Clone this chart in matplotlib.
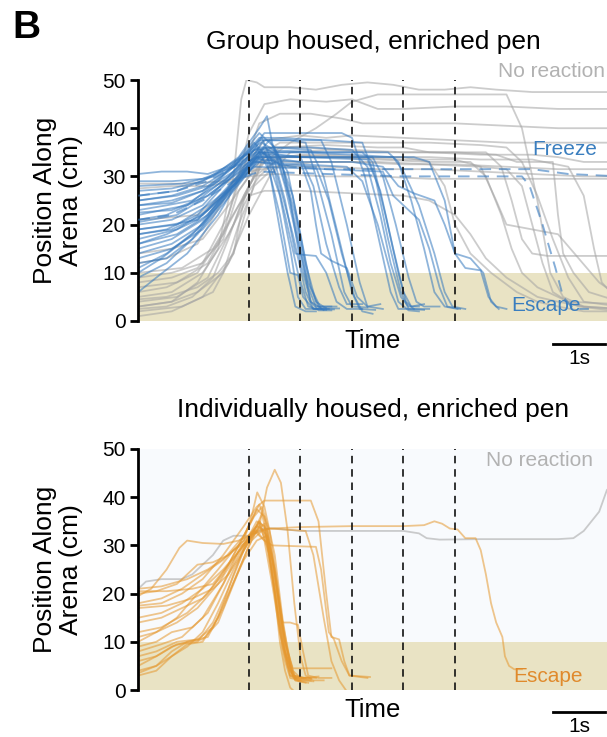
import matplotlib
matplotlib.use("Agg")
import matplotlib.pyplot as plt
from matplotlib.transforms import blended_transform_factory

plt.rcParams['font.family'] = ['Liberation Sans', 'DejaVu Sans']

# ---------------- data (time in s relative to first stimulus, position in cm) ----
stimulus_onsets = [0, 1, 2, 3, 4]
y_ticks = [0, 10, 20, 30, 40, 50]
escape_zone = [0, 10]

group_escape_trials = [
    [(-2.15,18),(-1.6,19),(-1.0,22),(-0.5,28),(0.0,34),(0.25,38),(0.45,33),(0.7,22),(0.95,10),(1.15,3),(1.3,2.5),(1.55,2.5)],
    [(-2.15,22),(-1.7,23),(-1.2,24),(-0.6,29),(-0.1,35),(0.2,39),(0.5,36),(0.8,25),(1.0,12),(1.2,4),(1.35,2.2),(1.6,2.2)],
    [(-2.15,14),(-1.5,16),(-0.9,20),(-0.4,27),(0.1,33),(0.3,35),(0.55,30),(0.85,18),(1.1,6),(1.25,2.5),(1.5,2.3)],
    [(-2.15,25),(-1.4,26),(-0.8,28),(-0.3,32),(0.1,37),(0.35,34),(0.6,26),(0.8,15),(0.95,5),(1.1,2.5),(1.4,2.5)],
    [(-2.15,9),(-1.6,12),(-1.0,18),(-0.5,25),(0.0,32),(0.3,36),(0.6,34),(0.9,22),(1.15,8),(1.35,3),(1.7,3)],
    [(-2.15,20),(-1.5,21),(-0.9,24),(-0.3,31),(0.15,36),(0.4,31),(0.65,16),(0.75,10),(0.9,3),(1.1,2),(1.3,2)],
    [(-2.15,28),(-1.3,28.5),(-0.7,30),(-0.2,34),(0.2,40),(0.35,42.5),(0.45,37),(0.7,28),(1.0,14),(1.2,4),(1.45,2.3)],
    [(-2.15,12),(-1.6,13),(-1.1,17),(-0.6,24),(-0.1,31),(0.25,35),(0.5,33),(0.7,25),(0.9,14),(1.0,13.8),(1.3,13.5),(1.5,10),(1.7,4),(1.9,2.5),(2.2,2.5)],
    [(-2.15,16),(-1.4,18),(-0.8,22),(-0.3,29),(0.15,34),(0.35,33),(0.6,22),(0.8,10),(0.95,9.5),(1.05,5),(1.25,2.5),(1.5,2.7)],
    [(-2.15,6),(-1.8,9),(-1.2,14),(-0.6,22),(-0.1,31),(0.25,37),(0.55,35),(0.85,26),(1.1,12),(1.3,4),(1.5,2.6),(1.75,2.6)],
    [(-2.15,23),(-1.6,24),(-1.1,25),(-0.5,29),(0.0,33),(0.3,35),(0.65,32),(0.9,20),(1.15,7),(1.3,3),(1.6,3)],
    [(-2.15,19),(-1.5,20),(-1.0,21),(-0.4,28),(0.1,34),(0.4,37.5),(0.75,31),(1.0,18),(1.2,7),(1.4,2.5),(1.65,2.4)],
    [(-2.15,24),(-1.5,25),(-0.9,27),(-0.4,31),(0.1,36),(0.3,37.5),(0.8,37.5),(1.1,37),(1.3,30),(1.6,18),(1.85,6),(2.0,3),(2.3,2.8)],
    [(-2.15,17),(-1.4,19),(-0.8,23),(-0.2,30),(0.2,35),(0.6,34.5),(1.0,34),(1.25,28),(1.5,16),(1.75,7),(1.9,3.5),(2.2,3.5)],
    [(-2.15,21),(-1.6,22),(-1.0,25),(-0.4,30),(0.1,35.5),(0.5,36),(1.2,35.5),(1.45,30),(1.75,17),(2.0,6),(2.15,2.5),(2.45,2.3)],
    [(-2.15,13),(-1.5,15),(-0.9,19),(-0.3,27),(0.15,33),(0.5,32.5),(1.3,32),(1.55,25),(1.8,14),(2.05,5),(2.2,2),(2.4,1.5)],
    [(-2.15,26),(-1.4,27),(-0.7,30),(-0.2,33),(0.2,37.5),(0.7,37.5),(1.4,37.5),(1.6,33),(1.9,20),(2.15,8),(2.3,3),(2.55,3.5)],
    [(-2.15,10),(-1.7,13),(-1.1,18),(-0.5,25),(0.0,31),(0.3,34),(1.0,33),(1.2,27),(1.3,20),(1.4,14),(1.6,12.5),(1.9,11),(2.1,5),(2.3,3),(2.6,2.5)],
    [(-2.15,30.5),(-1.7,31),(-1.2,31),(-0.8,30.5),(-0.4,32),(0.0,35),(0.3,39),(1.0,39),(1.8,39),(2.0,38),(2.25,30),(2.5,18),(2.75,6),(2.9,2.5),(3.2,2.5)],
    [(-2.15,25),(-1.5,26),(-0.9,28),(-0.3,32),(0.2,38),(0.6,38),(1.5,37.5),(2.2,37),(2.45,30),(2.7,17),(2.95,6),(3.1,2.5),(3.4,2.3)],
    [(-2.15,20.5),(-1.4,22),(-0.8,26),(-0.2,31),(0.2,35),(1.0,35),(2.2,35),(2.4,33),(2.65,22),(2.9,10),(3.05,4),(3.2,2.5),(3.5,2.5)],
    [(-2.15,15),(-1.5,17),(-0.9,21),(-0.3,28),(0.15,34),(1.0,34),(2.3,33.5),(2.55,27),(2.8,15),(3.0,6),(3.15,3),(3.4,3.5)],
    [(-2.15,27),(-1.5,27.5),(-0.9,29),(-0.3,33),(0.2,36),(1.2,36),(2.0,35.5),(2.3,32),(2.55,22),(2.75,12),(2.95,5),(3.1,3),(3.3,3)],
    [(-2.15,22.5),(-1.5,23),(-0.8,26),(-0.3,30),(0.1,33),(1.0,32.5),(1.9,32),(2.2,29),(2.5,20),(2.7,12),(2.9,4),(3.1,2.2),(3.3,2)],
    [(-2.15,11),(-1.6,14),(-1.0,19),(-0.5,26),(0.0,32),(0.3,34.5),(1.2,34),(2.4,34),(2.6,30),(2.85,20),(3.1,9),(3.25,4),(3.4,3),(3.7,3)],
    [(-2.15,24),(-1.5,24.5),(-0.9,27),(-0.3,31),(0.15,35),(1.0,35),(2.0,34.5),(2.8,34),(3.0,31),(3.3,24),(3.6,14),(3.8,6),(3.95,3),(4.2,2.5)],
    [(-2.15,19),(-1.4,20),(-0.8,24),(-0.2,29),(0.2,33.5),(1.0,33),(2.0,33),(2.6,32),(2.9,28),(3.2,26.5),(3.6,25),(3.8,20),(4.0,14),(4.3,13),(4.55,10),(4.7,4),(4.85,2.5)],
    [(-2.15,18),(-1.5,19),(-0.9,22),(-0.3,28),(0.2,34),(1.0,34),(2.5,34),(3.2,34),(3.5,33),(3.8,25),(4.0,14),(4.2,11),(4.5,10.5),(4.65,5),(4.8,3),(5.0,2.5)],
    [(-2.15,29),(-1.5,29),(-0.9,29.5),(-0.3,32),(0.2,35.5),(1.5,35),(2.7,35),(2.9,33),(3.15,25),(3.4,15),(3.6,6),(3.8,3),(4.05,2.5)],
    [(-2.15,16),(-1.6,18),(-1.0,21),(-0.4,27),(0.1,32),(1.5,31.5),(2.6,31),(2.8,26),(3.0,24),(3.3,21),(3.5,15),(3.7,7),(3.85,3),(4.1,2.5)],
]

group_freeze_trials = [
    [(-2.15,26),(-1.4,27),(-0.8,29),(-0.3,32),(0.2,34),(0.8,32),(1.5,31.5),(3.0,31.5),(4.5,31.5),(5.5,31.5),(6.2,30.5),(7.2,30)],
    [(-2.15,21),(-1.5,22),(-0.9,25),(-0.3,29),(0.2,31),(1.5,30.5),(3.0,30),(4.5,30),(5.3,30),(5.45,28),(5.7,20),(5.95,11),(6.1,5),(6.3,2.5),(6.6,2.5)],
]

group_noreaction_trials = [
    [(-2.15,3),(-1.5,4),(-1.0,8),(-0.6,15),(-0.3,30),(-0.15,46),(-0.05,50),(0.15,49.5),(0.3,48.5),(0.8,48.5),(1.3,48),(1.8,49),(2.3,49.5),(2.8,49),(3.3,48),(3.8,48),(4.3,48.5),(4.8,48),(5.5,47.5),(6.2,47.5),(7.2,47.5)],
    [(-2.15,6),(-1.6,7),(-1.0,10),(-0.5,18),(-0.2,30),(0.0,39),(0.3,45),(0.8,46),(1.5,45.5),(2.0,46),(2.5,44),(3.0,44),(4.0,44.5),(5.0,44.5),(6.0,44),(7.2,44)],
    [(-2.15,4),(-1.4,5),(-0.8,9),(-0.3,20),(0.0,28),(0.3,33),(0.8,37),(1.3,40),(1.7,43),(2.0,45.5),(2.5,47),(3.0,47),(4.0,47),(5.0,47),(5.3,40),(5.6,25),(5.85,10),(6.1,5),(6.5,3),(7.2,2.5)],
    [(-2.15,9),(-1.5,10),(-0.9,12),(-0.4,22),(-0.1,32),(0.2,41),(0.6,43),(1.2,43),(1.8,42),(2.2,41),(3.0,41),(4.0,41),(5.0,40.5),(6.0,40),(7.2,40)],
    [(-2.15,2),(-1.3,3),(-0.7,6),(-0.3,14),(0.0,25),(0.3,35),(0.6,37),(1.5,37),(2.5,37),(3.5,37),(4.5,36.5),(5.0,36),(5.3,33),(5.6,26),(5.9,17),(6.2,9),(6.5,4),(7.2,3)],
    [(-2.15,12),(-1.6,13),(-1.0,16),(-0.5,25),(-0.1,32),(0.3,36),(1.0,36),(2.0,35.5),(3.0,35),(4.0,35),(4.6,35),(4.9,32),(5.1,25),(5.3,17),(5.5,14),(5.8,13.5),(7.2,13.5)],
    [(-2.15,27.5),(-1.5,28),(-0.8,28),(-0.3,29),(0.0,31),(0.5,32),(1.5,32),(2.5,31.5),(3.5,31.5),(4.5,31),(5.5,30.5),(6.5,30),(7.2,30)],
    [(-2.15,28.5),(-1.2,28.5),(-0.5,29),(0.0,30),(0.5,30.5),(1.5,30),(2.5,30),(3.5,29.5),(4.5,29.5),(5.5,29.5),(7.2,29.5)],
    [(-2.15,5),(-1.5,6),(-0.9,10),(-0.4,18),(0.0,26),(0.3,27),(1.0,27),(2.0,26.5),(3.0,26),(3.5,25),(4.0,22),(4.3,18),(4.6,13),(5.0,9),(5.3,7),(5.6,5),(6.0,4),(6.5,3),(7.2,2.5)],
    [(-2.15,7),(-1.4,8),(-0.8,12),(-0.3,22),(0.1,30),(0.5,33),(1.5,33),(2.5,33),(3.5,32.5),(4.5,32),(5.0,31.5),(5.3,28),(5.5,20),(5.7,12),(5.9,6),(6.2,4),(7.2,3.5)],
    [(-2.15,10),(-1.3,11),(-0.7,15),(-0.2,24),(0.2,30),(0.6,34),(1.5,34),(2.5,33.5),(3.5,33),(4.3,33),(4.6,30),(4.9,22),(5.1,15),(5.3,10),(5.6,7),(6.0,5),(6.4,3),(7.2,2)],
    [(-2.15,1),(-1.5,2),(-0.9,5),(-0.4,12),(0.0,22),(0.4,30),(0.8,35),(1.5,35.5),(2.5,35),(3.5,35),(4.5,34.5),(5.5,34.5),(6.0,34),(6.5,33),(7.2,33)],
    [(-2.15,3),(-1.5,4),(-1.0,6),(-0.5,10),(-0.2,20),(0.1,28),(0.5,32),(1.3,33),(2.0,33),(3.0,32.5),(4.0,32.5),(5.0,32),(6.0,31.5),(7.2,31.5)],
    [(-2.15,14),(-1.5,15),(-0.9,17),(-0.4,24),(0.0,30),(0.4,34),(1.5,34.5),(2.5,34),(3.5,34),(4.5,33.5),(5.5,33.5),(6.2,32),(6.5,26),(6.7,15),(6.85,8),(7.2,4)],
    [(-2.15,8),(-1.5,9),(-1.0,11),(-0.5,17),(-0.2,27),(0.2,33),(1.0,34.5),(2.0,34),(3.0,34),(3.5,33),(3.8,28),(4.0,20),(4.3,14),(4.7,10),(5.2,6),(5.6,4),(6.0,3),(6.5,2),(7.2,2)],
    [(-2.15,4.5),(-1.6,5),(-1.0,7),(-0.6,10),(-0.3,14),(-0.1,25),(0.2,33),(0.6,36),(1.5,36.5),(2.5,36),(3.0,36),(3.5,35),(4.0,35),(4.8,34.5),(5.2,33),(5.9,33),(6.0,22),(6.1,14),(6.3,10),(6.6,6),(7.2,4)],
    [(-2.15,21),(-1.5,21.5),(-1.0,22),(-0.5,26),(-0.1,32),(0.3,37.5),(1.0,38.5),(1.5,38),(2.0,38.5),(3.0,38),(4.0,37.5),(5.0,37),(6.0,37),(7.2,37)],
    [(-2.15,2.5),(-1.6,3),(-1.1,5),(-0.7,9),(-0.4,17),(-0.1,26),(0.3,34),(1.0,34),(2.0,34),(3.0,33.5),(4.0,33.5),(4.5,32),(4.8,25),(5.0,20),(5.5,19),(6.0,18),(6.4,13),(6.8,8),(7.2,5)],
]

indiv_escape_trials = [
    [(-2.15,19.5),(-1.9,21),(-1.6,25),(-1.35,29.5),(-1.2,31),(-0.9,30.5),(-0.5,30.3),(-0.2,31),(0.1,32.5),(0.4,33.5),(1.0,33.8),(2.0,34),(3.0,34),(3.4,34.2),(3.6,35),(3.75,34.5),(3.9,33.5),(4.05,33.3),(4.2,31.5),(4.4,31.5),(4.5,29),(4.6,24),(4.7,18),(4.8,14),(4.92,11),(4.97,7),(5.05,5),(5.15,4.3),(5.3,4.3)],
    [(-2.15,10),(-1.8,12),(-1.4,15),(-1.0,20),(-0.6,25),(-0.3,29),(0.0,31),(0.2,34),(0.35,42),(0.5,45.7),(0.62,43),(0.75,33),(0.88,18),(1.0,7),(1.1,3),(1.25,2),(1.45,2)],
    [(-2.15,17.5),(-1.7,18),(-1.3,20),(-0.9,23),(-0.5,28),(-0.1,34),(0.15,38),(0.3,39.3),(0.8,39.3),(1.2,39.3),(1.35,35),(1.5,20),(1.6,11),(1.75,10.5),(1.85,6),(1.95,3),(2.35,2.7)],
    [(-2.15,20.5),(-1.6,20.5),(-1.1,21),(-0.7,22),(-0.4,26),(-0.1,30),(0.1,33),(0.3,31),(0.45,30),(1.3,29.7),(1.4,25),(1.55,12),(1.65,10.5),(1.8,6),(1.95,3),(2.3,2.5)],
    [(-2.15,8),(-1.7,9.5),(-1.3,11),(-0.9,15),(-0.5,22),(-0.2,29),(0.1,33),(0.4,33.5),(1.1,33),(1.25,28),(1.45,15),(1.6,6),(1.75,2),(1.88,0)],
    [(-2.15,12),(-1.7,13),(-1.2,16),(-0.8,20),(-0.4,26),(-0.05,33),(0.2,38.5),(0.35,34),(0.5,25),(0.65,14),(0.8,6),(0.9,2.5),(1.2,2)],
    [(-2.15,5),(-1.8,7),(-1.4,9.5),(-1.0,10),(-0.7,14),(-0.4,21),(-0.1,29),(0.1,33),(0.25,36.5),(0.4,30),(0.55,20),(0.7,10),(0.85,4),(1.0,2.5),(1.3,2.5)],
    [(-2.15,3),(-1.8,4),(-1.5,7),(-1.2,9.5),(-0.9,10),(-0.6,15),(-0.3,24),(0.0,32),(0.15,35),(0.3,34),(0.45,24),(0.6,12),(0.75,5),(0.9,2),(1.15,1.5)],
    [(-2.15,21),(-1.7,21.5),(-1.2,23),(-0.8,25),(-0.4,28),(-0.1,31),(0.15,34),(0.3,33),(0.45,27),(0.6,16),(0.75,7),(0.85,3),(1.05,2.5)],
    [(-2.15,18),(-1.7,19),(-1.3,21),(-0.9,24),(-0.5,27),(-0.1,32),(0.15,37.5),(0.3,36),(0.45,28),(0.6,16),(0.7,8),(0.8,3),(1.0,2.2)],
    [(-2.15,7),(-1.8,8),(-1.4,10),(-1.0,10.5),(-0.7,13),(-0.4,20),(-0.1,27),(0.15,31),(0.35,32),(0.5,25),(0.65,13),(0.8,5),(0.9,2),(1.1,1.5)],
    [(-2.15,15),(-1.7,16),(-1.3,18),(-0.9,21),(-0.5,25),(-0.1,30),(0.2,35),(0.35,33),(0.5,24),(0.65,14),(0.8,14),(0.95,13.5),(1.05,8),(1.15,3),(1.35,2.5),(1.6,2.5)],
    [(-2.15,9),(-1.8,10),(-1.5,12),(-1.1,13),(-0.8,16),(-0.5,22),(-0.2,28),(0.05,32),(0.2,35),(0.35,31),(0.5,20),(0.6,10),(0.7,4),(0.8,0.5),(0.85,0)],
    [(-2.15,4),(-1.8,5),(-1.5,8),(-1.2,10),(-0.9,10.5),(-0.6,14),(-0.3,22),(0.0,30),(0.2,34),(0.35,32),(0.5,21),(0.65,9),(0.8,3),(0.95,2),(1.2,2.2)],
    [(-2.15,20),(-1.8,20.5),(-1.4,22),(-1.0,26),(-0.7,26.5),(-0.4,28),(-0.1,31),(0.05,36),(0.16,41),(0.3,38),(0.5,28),(0.65,15),(0.8,5),(0.9,2.5),(1.2,2.5)],
    [(-2.15,6),(-1.8,7),(-1.5,9),(-1.2,10),(-0.8,11),(-0.5,17),(-0.2,25),(0.05,31),(0.25,33),(0.4,28),(0.55,17),(0.7,8),(0.85,3),(1.05,2.5),(1.35,2.8)],
    [(-2.15,11),(-1.8,12),(-1.4,14),(-1.0,17),(-0.6,22),(-0.3,27),(0.0,32),(0.2,34.5),(0.35,30),(0.5,20),(0.65,10),(0.8,4),(0.95,2),(1.25,1.8)],
    [(-2.15,17),(-1.6,17.5),(-1.1,19),(-0.7,21),(-0.4,24),(-0.1,29),(0.15,33),(0.3,31),(0.45,22),(0.6,12),(0.7,6),(0.8,2.5),(1.0,2)],
    [(-2.15,3.5),(-1.8,5),(-1.5,7),(-1.2,9),(-0.9,12),(-0.6,18),(-0.3,25),(0.0,31),(0.2,33.5),(0.3,34.5),(0.4,28),(0.55,18),(0.7,8),(0.85,3),(1.1,2.5)],
    [(-2.15,14),(-1.7,15),(-1.3,17),(-0.9,19),(-0.5,24),(-0.2,30),(0.1,36),(0.25,38),(0.4,33),(0.55,22),(0.7,10),(0.85,4.5),(1.6,4.5)],
]

indiv_noreaction_trials = [
    [(-2.15,21),(-2.0,22.5),(-1.7,23),(-1.3,23),(-1.1,24),(-0.9,26),(-0.7,28),(-0.5,31),(-0.3,32),(0.0,32),(0.3,33.5),(0.5,33.5),(1.0,33),(2.0,33),(3.0,33),(3.3,32.5),(3.45,31.5),(3.7,31.2),(4.5,31.3),(5.5,31.3),(6.0,31.3),(6.3,31.5),(6.5,33),(6.8,37),(6.95,41.5),(7.2,44)],
]

# ---------------- styling ----------------
BLUE = '#3478be'
ORANGE = '#e5982f'
GRAY = '#a3a3a3'
BEIGE = '#e9e3c4'
PALE = '#f8fafd'

W, H = 607, 737
fig = plt.figure(figsize=(W / 100, H / 100), dpi=100)

px_per_s = 51.5
x0_px, t0 = 138, -2.155
tmax = 7.2
ax_w = (tmax - t0) * px_per_s / W
ax_h = (321 - 80) / H


def draw_panel(ax, layers, pale_bg):
    ax.set_xlim(t0, tmax)
    ax.set_ylim(0, 50)
    if pale_bg:
        ax.axhspan(escape_zone[1], 50, color=PALE, zorder=0, lw=0)
    ax.axhspan(escape_zone[0], escape_zone[1], color=BEIGE, zorder=0.5, lw=0)
    z = 1
    for trials, color, ls in layers:
        for tr in trials:
            ts = [p[0] for p in tr]
            ys = [p[1] for p in tr]
            ax.plot(ts, ys, color=color, alpha=0.55, lw=1.3, ls=ls,
                    dashes=(6, 4) if ls == '--' else (None, None) if False else None,
                    zorder=z, solid_capstyle='round')
        z += 1
    for s in stimulus_onsets:
        ax.axvline(s, color='#111111', lw=1.2, ls=(0, (4.5, 3.5)), zorder=10)
    for sp in ['top', 'right', 'bottom']:
        ax.spines[sp].set_visible(False)
    ax.spines['left'].set_linewidth(2.0)
    ax.set_xticks([])
    ax.set_yticks(y_ticks)
    ax.tick_params(axis='y', length=6, width=2.0, labelsize=15, pad=3)


def plot_trials(ax, trials, color, dashed=False, z=1):
    for tr in trials:
        ts = [p[0] for p in tr]
        ys = [p[1] for p in tr]
        if dashed:
            ax.plot(ts, ys, color=color, alpha=0.6, lw=1.4, ls=(0, (6, 4)), zorder=z)
        else:
            ax.plot(ts, ys, color=color, alpha=0.55, lw=1.3, zorder=z)


def setup(ax, pale_bg):
    ax.set_xlim(t0, tmax)
    ax.set_ylim(0, 50)
    if pale_bg:
        ax.axhspan(escape_zone[1], 50, color=PALE, zorder=0, lw=0)
    ax.axhspan(escape_zone[0], escape_zone[1], color=BEIGE, zorder=0.5, lw=0)
    for s in stimulus_onsets:
        ax.axvline(s, color='#111111', lw=1.2, ls=(0, (4.5, 3.5)), zorder=10)
    for sp in ['top', 'right', 'bottom']:
        ax.spines[sp].set_visible(False)
    ax.spines['left'].set_linewidth(2.0)
    ax.set_xticks([])
    ax.set_yticks(y_ticks)
    ax.tick_params(axis='y', length=6, width=2.0, labelsize=15, pad=3)


# top panel
ax1 = fig.add_axes([x0_px / W, (H - 321) / H, ax_w, ax_h])
setup(ax1, False)
plot_trials(ax1, group_noreaction_trials, GRAY, z=1)
plot_trials(ax1, group_escape_trials, BLUE, z=2)
plot_trials(ax1, group_freeze_trials, BLUE, dashed=True, z=3)

# bottom panel
ax2 = fig.add_axes([x0_px / W, (H - 690) / H, ax_w, ax_h])
setup(ax2, True)
plot_trials(ax2, indiv_noreaction_trials, GRAY, z=1)
plot_trials(ax2, indiv_escape_trials, ORANGE, z=2)

for ax, title, ty, timey, sby in [
        (ax1, 'Group housed, enriched pen', 42, 341, 344),
        (ax2, 'Individually housed, enriched pen', 410, 710, 712)]:
    fig.text(373 / W, 1 - ty / H, title, ha='center', va='center', fontsize=19)
    fig.text(373 / W, 1 - timey / H, 'Time', ha='center', va='center', fontsize=18.5)
    # ylabel
    cy = (ax.get_position().y0 + ax.get_position().y1) / 2
    fig.text(58 / W, cy, 'Position Along\nArena (cm)', rotation=90, ha='center',
             va='center', fontsize=19, multialignment='center', linespacing=1.15)
    # scale bar (1 s)
    fig.add_artist(plt.Line2D([553 / W, (553 + px_per_s) / W], [1 - sby / H, 1 - sby / H],
                              color='black', lw=2.0, transform=fig.transFigure))
    fig.text(579 / W, 1 - (sby + 14) / H, '1s', ha='center', va='center', fontsize=15)

# category labels
ax1.text(4.83, 51.7, 'No reaction', color='#b2b2b2', fontsize=15, ha='left', va='center', clip_on=False)
ax1.text(5.51, 35.5, 'Freeze', color='#3a7ebf', fontsize=15, ha='left', va='center', zorder=20)
ax1.text(5.09, 3.3, 'Escape', color='#3a7ebf', fontsize=15, ha='left', va='center', zorder=20)
ax2.text(4.6, 47.7, 'No reaction', color='#b2b2b2', fontsize=15, ha='left', va='center', zorder=20)
ax2.text(5.13, 2.9, 'Escape', color='#e08a2c', fontsize=15, ha='left', va='center', zorder=20)

fig.text(12 / W, 1 - 28 / H, 'B', fontsize=28, fontweight='bold', ha='left', va='center')

fig.savefig('out.png', dpi=100)
